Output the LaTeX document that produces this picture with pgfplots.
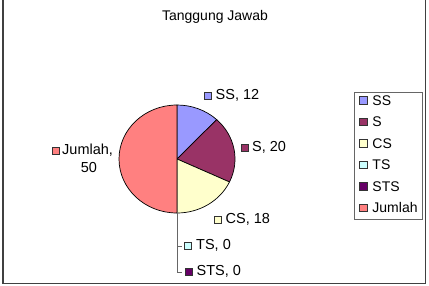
\documentclass[border=0pt]{standalone}
\usepackage{pgfplots}
\pgfplotsset{compat=1.18}
\usepackage{pgfplotstable}
\usepackage{fontspec}
\setmainfont{Liberation Sans}

\definecolor{cSS}{HTML}{9999FF}
\definecolor{cS}{HTML}{993366}
\definecolor{cCS}{HTML}{FFFFCC}
\definecolor{cTS}{HTML}{CCFFFF}
\definecolor{cSTS}{HTML}{660066}
\definecolor{cJ}{HTML}{FF8080}
\definecolor{frame}{HTML}{404040}

\pgfplotstableread{
label value
SS 12
S 20
CS 18
TS 0
STS 0
Jumlah 50
}\piedata

\pgfplotstablegetelem{0}{value}\of\piedata \edef\vA{\pgfplotsretval}
\pgfplotstablegetelem{1}{value}\of\piedata \edef\vB{\pgfplotsretval}
\pgfplotstablegetelem{2}{value}\of\piedata \edef\vC{\pgfplotsretval}
\pgfplotstablegetelem{3}{value}\of\piedata \edef\vD{\pgfplotsretval}
\pgfplotstablegetelem{4}{value}\of\piedata \edef\vE{\pgfplotsretval}
\pgfplotstablegetelem{5}{value}\of\piedata \edef\vF{\pgfplotsretval}
\pgfmathsetmacro\tot{\vA+\vB+\vC+\vD+\vE+\vF}
\pgfmathsetmacro\aO{90}
\pgfmathsetmacro\aA{\aO-360/\tot*\vA}
\pgfmathsetmacro\aB{\aA-360/\tot*\vB}
\pgfmathsetmacro\aC{\aB-360/\tot*\vC}
\pgfmathsetmacro\aD{\aC-360/\tot*\vD}
\pgfmathsetmacro\aE{\aD-360/\tot*\vE}
\pgfmathsetmacro\aF{\aE-360/\tot*\vF}

\newcommand\pieWedge[3]{%
  \fill[#1, draw=black, line width=0.7bp] (axis cs:177,159) -- ++(#2:58bp and 54bp)
    arc[start angle=#2, end angle=#3, x radius=58bp, y radius=54bp] -- cycle;}
\newcommand\sq[3]{%
  \draw[fill=#1, draw=black!80, line width=0.6bp] (axis cs:#2,#3) ++(-3.5bp,-3.5bp) rectangle ++(7bp,7bp);}
\newcommand\lblfont{\fontsize{14.5bp}{17bp}\selectfont}

\begin{document}
\begin{tikzpicture}
\useasboundingbox (0,0) rectangle (429bp,286bp);
\begin{axis}[
  scale only axis, width=429bp, height=286bp,
  xmin=0, xmax=429, ymin=0, ymax=286, y dir=reverse,
  hide axis, clip=false,
  legend style={at={(axis cs:354,92)}, anchor=north west,
    draw=black!60, line width=0.7bp, fill=white,
    inner xsep=5bp, inner ysep=3bp, row sep=8.5bp, column sep=5bp,
    font=\fontsize{14bp}{16bp}\selectfont,
    nodes={inner sep=0bp, text height=10bp, text depth=3bp}},
  legend cell align=left,
  legend image code/.code={\draw[#1, draw=black!80, line width=0.6bp] (0bp,-2bp) rectangle (7.5bp,5.5bp);},
]
\addlegendimage{fill=cSS}\addlegendentry{SS}
\addlegendimage{fill=cS}\addlegendentry{S}
\addlegendimage{fill=cCS}\addlegendentry{CS}
\addlegendimage{fill=cTS}\addlegendentry{TS}
\addlegendimage{fill=cSTS}\addlegendentry{STS}
\addlegendimage{fill=cJ}\addlegendentry{Jumlah}

\pieWedge{cSS}{\aO}{\aA}
\pieWedge{cS}{\aA}{\aB}
\pieWedge{cCS}{\aB}{\aC}
\pieWedge{cJ}{\aE}{\aF}

% leader lines
\draw[black!60, line width=0.6bp] (axis cs:177.5,212) -- (axis cs:177.5,272) -- (axis cs:182,272);
\draw[black!60, line width=0.6bp] (axis cs:177.5,246.5) -- (axis cs:182,246.5);

% data labels
\sq{cSS}{207.5}{95.5}
\node[anchor=west, inner sep=0pt, font=\lblfont] at (axis cs:215.5,95) {SS, 12};
\sq{cS}{244.5}{148}
\node[anchor=west, inner sep=0pt, font=\lblfont] at (axis cs:252,147.5) {S, 20};
\sq{cCS}{217.5}{220}
\node[anchor=west, inner sep=0pt, font=\lblfont] at (axis cs:225.5,219.5) {CS, 18};
\sq{cTS}{188}{246}
\node[anchor=west, inner sep=0pt, font=\lblfont] at (axis cs:196,245.5) {TS, 0};
\sq{cSTS}{188.5}{272}
\node[anchor=west, inner sep=0pt, font=\lblfont] at (axis cs:196.5,271.5) {STS, 0};
\sq{cJ}{55.5}{151}
\node[anchor=west, inner sep=0pt, font=\lblfont] at (axis cs:62,150.5) {Jumlah,};
\node[inner sep=0pt, font=\lblfont] at (axis cs:89,168) {50};

% title
\node[inner sep=0pt, font=\fontsize{14bp}{16bp}\selectfont] at (axis cs:215,17) {Tanggung Jawab};

% frame
\draw[frame, line width=1.6bp] (axis cs:3,0) -- (axis cs:3,283.5) -- (axis cs:425.5,283.5) -- (axis cs:425.5,0);
\end{axis}
\end{tikzpicture}
\end{document}
